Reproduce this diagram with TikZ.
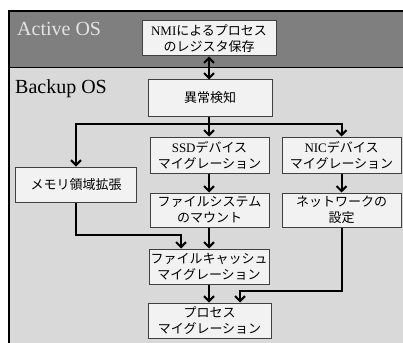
\documentclass[tikz,border=0pt]{standalone}
\usepackage{fontspec}
\setmainfont{Liberation Serif}
\newfontfamily\jp{Noto Sans CJK JP}
\usetikzlibrary{arrows.meta}
\definecolor{darkbg}{HTML}{7F7F7F}
\definecolor{lightbg}{HTML}{D9D9D9}
\definecolor{boxfill}{HTML}{F2F2F2}
\definecolor{boxline}{HTML}{404040}
\definecolor{activetxt}{HTML}{E3E3E3}
\tikzset{
  stepbox/.style={draw=boxline, line width=1pt, fill=boxfill, align=center,
    inner sep=0pt, font=\fontsize{13}{16}\selectfont},
  conn/.style={line width=2pt, -{Straight Barb[length=5pt,width=10pt,line width=2pt]}},
  bar/.style={line width=2pt},
  dconn/.style={line width=2pt, {Straight Barb[length=5pt,width=10pt,line width=2pt]}-{Straight Barb[length=5pt,width=10pt,line width=2pt]}},
  oslabel/.style={anchor=base west, inner sep=0pt, font=\fontsize{20}{24}\selectfont}
}
\begin{document}
\begin{tikzpicture}[x=1pt,y=-1pt]
\useasboundingbox (0,0) rectangle (403,342);
\fill[white] (0,0) rectangle (403,342);
\clip (0,0) rectangle (403,342);
% regions
\fill[lightbg] (9,68) rectangle (410,350);
\fill[darkbg] (9,11) rectangle (410,68);
\draw[line width=1pt] (9,68) -- (410,68);
\draw[line width=1.6pt] (9,350) -- (9,11) -- (410,11);
\node[oslabel, text=activetxt] (act) at (17,35.5) {Active OS};
\node[oslabel] (bak) at (15,93) {Backup OS};
% boxes
\node[stepbox, minimum width=134pt, minimum height=35pt] (nmi) at (209,38.5) {NMI{\jp によるプロセス}\\{\jp のレジスタ保存}};
\node[stepbox, minimum width=124pt, minimum height=36pt] (det) at (210,98) {\jp 異常検知};
\node[stepbox, minimum width=119pt, minimum height=36pt] (ssd) at (209.5,155) {SSD{\jp デバイス}\\{\jp マイグレーション}};
\node[stepbox, minimum width=119pt, minimum height=36pt] (nic) at (341.5,155) {NIC{\jp デバイス}\\{\jp マイグレーション}};
\node[stepbox, minimum width=121pt, minimum height=35pt] (mem) at (76,184.5) {\jp メモリ領域拡張};
\node[stepbox, minimum width=119pt, minimum height=34pt] (fs) at (209.5,210) {{\jp ファイルシステム}\\{\jp のマウント}};
\node[stepbox, minimum width=119pt, minimum height=34pt] (net) at (341.5,210) {{\jp ネットワークの}\\{\jp 設定}};
\node[stepbox, minimum width=120pt, minimum height=35pt] (fc) at (209,266.5) {{\jp ファイルキャッシュ}\\{\jp マイグレーション}};
\node[stepbox, minimum width=123pt, minimum height=35pt] (proc) at (209.5,320.5) {{\jp プロセス}\\{\jp マイグレーション}};
% connectors
\draw[dconn] (nmi.south -| 209,0) -- (det.north -| 209,0);
\coordinate (j) at (209,124);
\draw[bar] (det.south -| j) -- (j);
\draw[conn] (j) -| (mem.north);
\draw[conn] (j) -- (ssd.north -| j);
\draw[conn] (j) -| (nic.north);
\draw[conn] (ssd.south -| j) -- (fs.north -| j);
\draw[conn] (nic.south) -- (net.north);
\coordinate (ml) at (181,235);
\draw[conn] (mem.south) |- (ml) -- (fc.north -| ml);
\draw[conn] (fs.south -| j) -- (fc.north -| j);
\draw[conn] (fc.south -| j) -- (proc.north -| j);
\coordinate (nr) at (240,291);
\draw[conn] (net.south) |- (nr) -- (proc.north -| nr);
\end{tikzpicture}
\end{document}
